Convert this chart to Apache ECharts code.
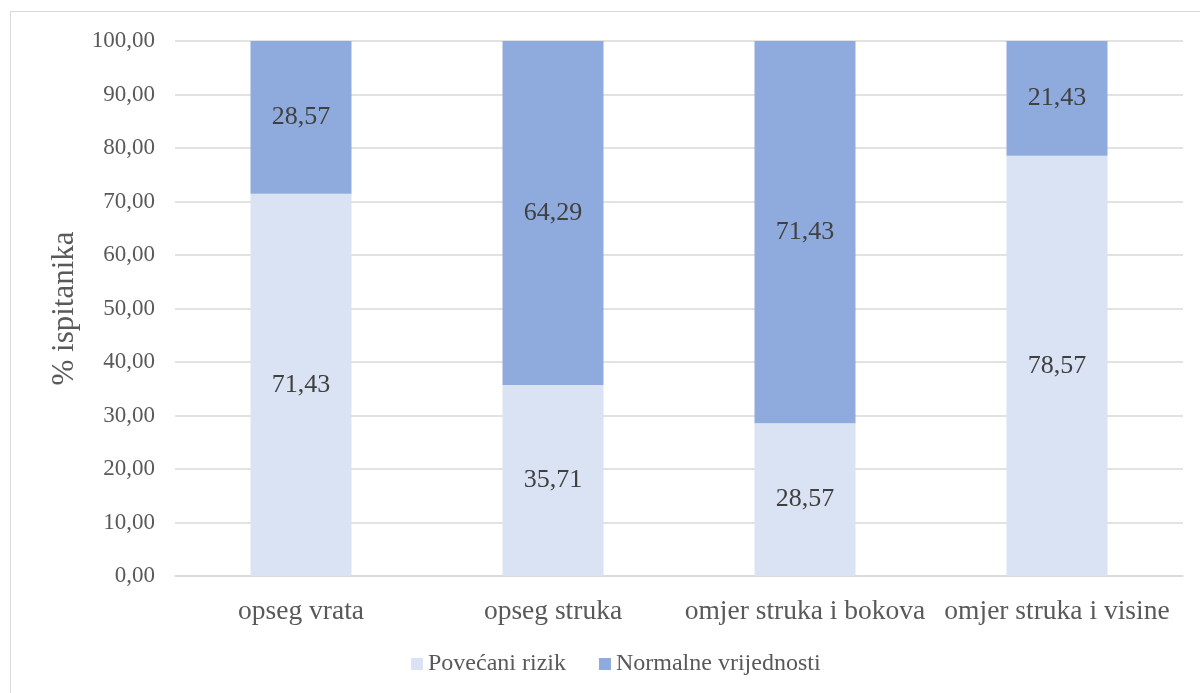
<!DOCTYPE html>
<html>
<head>
<meta charset="utf-8">
<script src="https://cdn.jsdelivr.net/npm/echarts@6/dist/echarts.min.js"></script>
<style>
  html, body { margin: 0; padding: 0; background: #fff; }
  #chart { width: 1200px; height: 693px; }
  .frame { position: absolute; left: 10px; top: 11px; width: 1200px; height: 700px; border: 1px solid #d9d9d9; box-sizing: border-box; pointer-events: none; }
</style>
</head>
<body>
<div id="chart"></div>
<div class="frame"></div>
<script>
const categories = ['opseg vrata', 'opseg struka', 'omjer struka i bokova', 'omjer struka i visine'];
const povecaniRizik = [71.43, 35.71, 28.57, 78.57];
const normalneVrijednosti = [28.57, 64.29, 71.43, 21.43];

const font = '"Liberation Serif", "Times New Roman", serif';
const fmt = v => v.toFixed(2).replace('.', ',');

const myChart = echarts.init(document.getElementById('chart'));
myChart.setOption({
  animation: false,
  textStyle: { fontFamily: font },
  grid: { left: 175, right: 17, top: 41, bottom: 117, containLabel: false },
  legend: {
    top: 647,
    left: 406,
    itemWidth: 12,
    itemHeight: 12,
    itemGap: 33,
    icon: 'rect',
    textStyle: { fontFamily: font, fontSize: 24, color: '#595959' },
    data: ['Povećani rizik', 'Normalne vrijednosti']
  },
  xAxis: {
    type: 'category',
    data: categories,
    axisTick: { show: false },
    axisLine: { lineStyle: { color: '#d9d9d9', width: 1.5 } },
    axisLabel: { color: '#595959', fontSize: 27.5, fontFamily: font, margin: 22, interval: 0 }
  },
  yAxis: {
    type: 'value',
    min: 0,
    max: 100,
    interval: 10,
    name: '% ispitanika',
    nameLocation: 'middle',
    nameGap: 92,
    nameTextStyle: { color: '#595959', fontSize: 31, fontFamily: font },
    axisLine: { show: false },
    axisTick: { show: false },
    axisLabel: { color: '#595959', fontSize: 23, fontFamily: font, margin: 20, formatter: v => fmt(v) },
    splitLine: { lineStyle: { color: '#d9d9d9', width: 1.5 } }
  },
  series: [
    {
      name: 'Povećani rizik',
      type: 'bar',
      stack: 'total',
      data: povecaniRizik,
      barWidth: 101,
      itemStyle: { color: '#DAE3F3' },
      label: { show: true, position: 'inside', color: '#404040', fontSize: 26, fontFamily: font, formatter: p => fmt(p.value) }
    },
    {
      name: 'Normalne vrijednosti',
      type: 'bar',
      stack: 'total',
      data: normalneVrijednosti,
      barWidth: 101,
      itemStyle: { color: '#8FAADC' },
      label: { show: true, position: 'inside', color: '#404040', fontSize: 26, fontFamily: font, formatter: p => fmt(p.value) }
    }
  ]
});
</script>
</body>
</html>
